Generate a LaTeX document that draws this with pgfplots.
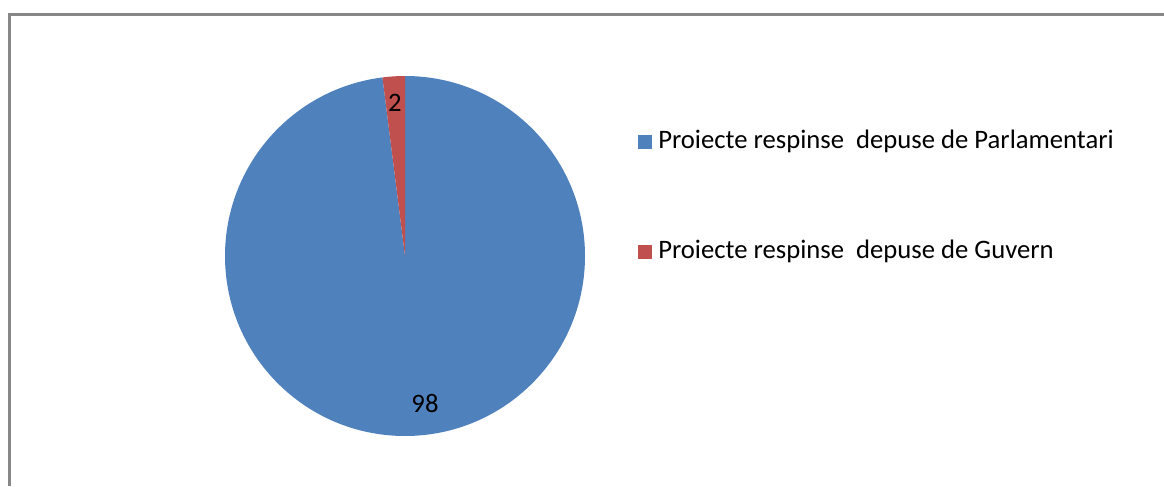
\documentclass[border=0pt]{standalone}
\usepackage{fontspec}
\setmainfont{Carlito}
\usepackage{pgfplots}
\usepackage{pgfplotstable}
\pgfplotsset{compat=1.18}

\definecolor{pieblue}{HTML}{4F81BD}
\definecolor{piered}{HTML}{C0504D}
\definecolor{framegray}{HTML}{878787}

% values of the two slices
\pgfplotstableread{
value
98
2
}\piedata
\pgfplotstablegetelem{0}{value}\of\piedata \let\vA\pgfplotsretval
\pgfplotstablegetelem{1}{value}\of\piedata \let\vB\pgfplotsretval
\pgfmathsetmacro\angA{90-360*(\vA/(\vA+\vB))}

\begin{document}
\begin{tikzpicture}
\begin{axis}[
    x=0.75pt, y=0.75pt,
    xmin=0, xmax=1164, ymin=0, ymax=486,
    hide axis,
    clip=false,
    ]
    % chart frame (right and bottom edges fall outside the picture)
    \draw[framegray, line width=2.25pt] (axis cs:9.5,0) -- (axis cs:9.5,471.7) -- (axis cs:1164,471.7);
    % pie, starting at 12 o'clock, clockwise
    \fill[pieblue] (axis cs:405,230) -- ++(90:135pt)
        arc[start angle=90, end angle=\angA, radius=135pt] -- cycle;
    \fill[piered] (axis cs:405,230) -- ++(\angA:135pt)
        arc[start angle=\angA, end angle=-270, radius=135pt] -- cycle;
    % data labels
    \node[font=\fontsize{20}{24}\selectfont] at (axis cs:395,383) {\vB};
    \node[font=\fontsize{20}{24}\selectfont] at (axis cs:425,83) {\vA};
    % legend
    \fill[pieblue] (axis cs:638,337) rectangle (axis cs:652,351);
    \node[anchor=base west, inner sep=0pt, font=\fontsize{20}{24}\selectfont]
        at (axis cs:658,337) {Proiecte respinse\ \ depuse de Parlamentari};
    \fill[piered] (axis cs:638,227) rectangle (axis cs:652,241);
    \node[anchor=base west, inner sep=0pt, font=\fontsize{20}{24}\selectfont]
        at (axis cs:658,227) {Proiecte respinse\ \ depuse de Guvern};
\end{axis}
\pgfresetboundingbox
\path[use as bounding box] (0,0) rectangle (873pt,364.5pt);
\end{tikzpicture}
\end{document}
